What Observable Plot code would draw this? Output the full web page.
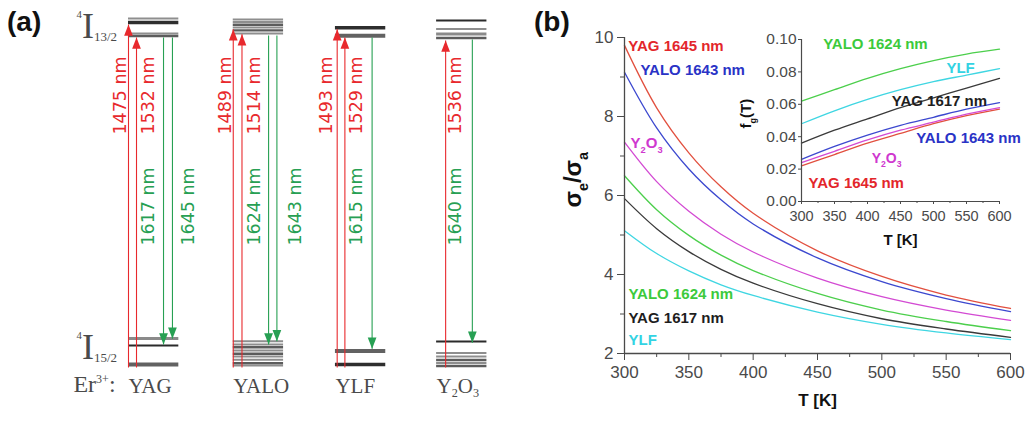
<!DOCTYPE html>
<html>
<head>
<meta charset="utf-8">
<script src="https://cdn.jsdelivr.net/npm/d3@7"></script>
<script src="https://cdn.jsdelivr.net/npm/@observablehq/plot@0.6"></script>
<style>
  html, body { margin: 0; padding: 0; background: #fff; }
  #fig { position: relative; width: 1031px; height: 423px; overflow: hidden; background: #fff; }
  #fig svg { position: absolute; }
  .tag { position: absolute; font: bold 28px "Liberation Sans", Arial, sans-serif; color: #111; line-height: 1; }
</style>
</head>
<body>
<div id="fig">
  <div class="tag" style="left:7px;top:8px">(a)</div>
  <div class="tag" style="left:534px;top:8px">(b)</div>
</div>
<script>
// ================= DATA =================
// ---- panel (a): Er3+ energy-level scheme (schematic energies, cm^-1) ----
const hostNames = ["YAG", "YALO", "YLF", "Y_[0.58,0.2]{2}O_[0.58,0.2]{3}"];
const hostX = [0, 1.02, 2.015, 3];                 // column index of each host
const manifoldLabels = ["^[0.3,-0.55]{4}I_[0.36,0.1]{13/2}", "^[0.3,-0.55]{4}I_[0.36,0.1]{15/2}"];
const ionLabel = "Er^[0.5,-0.4]{3+}:";

const yagLevels   = [6970, 6890, 6668, 6618, 524, 383, 0];
const yagWeights  = ["gray", "darkWide", "gray", "mid", "grayWide", "dark", "midWide"];
const yaloLevels  = [6950, 6900, 6845, 6790, 6730, 6668, 469, 403, 349, 282, 216, 161, 95, 26, -20];
const yaloWeights = ["gray", "gray", "mid", "gray", "mid", "gray", "gray", "gray", "mid", "gray", "mid", "gray", "gray", "mid", "gray"];
const ylfLevels   = [6783, 6622, 272, 0];
const ylfWeights  = ["darkWide", "midWide", "midWide", "darkWide"];
const y2o3Levels  = [6930, 6759, 6658, 6577, 463, 232, 161, 91, 30, -30];
const y2o3Weights = ["dark", "gray", "grayWide", "mid", "dark", "gray", "gray", "mid", "gray", "mid"];

const transHost   = [0, 0, 0, 0, 1, 1, 1, 1, 2, 2, 2, 3, 3];
const transNm     = [1475, 1532, 1617, 1645, 1489, 1514, 1624, 1643, 1493, 1529, 1615, 1536, 1640];
const transKind   = ["abs", "abs", "em", "em", "abs", "abs", "em", "em", "abs", "abs", "em", "abs", "em"];
const transTop    = [6849, 6587, 6587, 6587, 6755, 6654, 6628, 6628, 6755, 6587, 6587, 6527, 6547];
const transBottom = [-60, -60, 403, 518, -60, -60, 403, 469, -60, -60, 316, -60, 437];
const transSlot   = [0, 0.078, 0.341, 0.428, 0, 0.085, 0.344, 0.425, 0.017, 0.092, 0.357, 0.088, 0.348];
const labelSlot   = [-0.078, 0.195, 0.195, 0.584, -0.078, 0.204, 0.204, 0.604, -0.088, 0.204, 0.204, 0.185, 0.185];

// ---- panel (b): sigma_e / sigma_a vs T ----
const temps = [300, 325, 350, 375, 400, 450, 500, 550, 600];
const ratioYAG1645  = [9.80, 8.22, 7.08, 6.22, 5.55, 4.60, 3.95, 3.48, 3.14];
const ratioYALO1643 = [9.12, 7.71, 6.67, 5.89, 5.28, 4.42, 3.82, 3.39, 3.06];
const ratioY2O3     = [7.35, 6.35, 5.60, 5.02, 4.57, 3.91, 3.44, 3.10, 2.84];
const ratioYALO1624 = [6.50, 5.64, 4.99, 4.49, 4.10, 3.52, 3.10, 2.81, 2.58];
const ratioYAG1617  = [5.92, 5.16, 4.58, 4.13, 3.78, 3.26, 2.88, 2.62, 2.41];
const ratioYLF      = [5.11, 4.53, 4.09, 3.74, 3.47, 3.05, 2.74, 2.52, 2.35];

// ---- inset: f_g(T) vs T ----
const tempsInset = [300, 350, 400, 450, 500, 550, 600];
const fgYALO1624 = [0.062, 0.069, 0.076, 0.082, 0.087, 0.091, 0.094];
const fgYLF      = [0.048, 0.056, 0.063, 0.069, 0.074, 0.078, 0.082];
const fgYAG1617  = [0.036, 0.044, 0.051, 0.058, 0.064, 0.070, 0.076];
const fgYALO1643 = [0.026, 0.034, 0.041, 0.047, 0.052, 0.057, 0.061];
const fgY2O3     = [0.024, 0.031, 0.038, 0.044, 0.049, 0.054, 0.058];
const fgYAG1645  = [0.022, 0.029, 0.036, 0.042, 0.048, 0.053, 0.057];

const seriesNames = ["YAG 1645 nm", "YALO 1643 nm", "Y2O3", "YALO 1624 nm", "YAG 1617 nm", "YLF"];
const seriesLabels = ["YAG 1645 nm", "YALO 1643 nm", "Y_[0.62,0.3]{2}O_[0.62,0.3]{3}", "YALO 1624 nm", "YAG 1617 nm", "YLF"];
const mainLabelT  = [303, 312.4, 304.7, 303.1, 303.1, 303.1];
const mainLabelV  = [9.77, 9.16, 7.32, 3.49, 2.89, 2.33];
const insetLabelT = [383, 553, 429, 412, 509, 541];
const insetLabelV = [0.0111, 0.0389, 0.0265, 0.0969, 0.0617, 0.0821];

const xTicks = [300, 350, 400, 450, 500, 550, 600];
const xMinor = [325, 375, 425, 475, 525, 575];
const yTicks = [2, 4, 6, 8, 10];
const yMinor = [3, 5, 7, 9];
const fgTicks = [0, 0.02, 0.04, 0.06, 0.08, 0.10];

// ================= STYLES =================
const lineColors  = ["#e2503f", "#3c48cf", "#d34ad3", "#4ccf4c", "#3a3a3a", "#3fd6e2"];
const labelColors = ["#e3262b", "#2a33c6", "#cf38cf", "#3cca3c", "#1e1e1e", "#33d3e3"];
const red = "#e8292d", green = "#27a053";
const levelStyles = {
  dark:     {stroke: "#2b2b2b", width: 2.2},
  darkWide: {stroke: "#2e2e2e", width: 3.4},
  mid:      {stroke: "#5c5c5c", width: 2.4},
  midWide:  {stroke: "#626262", width: 4},
  gray:     {stroke: "#8e8e8e", width: 1.9},
  grayWide: {stroke: "#8a8a8a", width: 3.2}
};
const colWidth = 0.49;
const sans = "'Liberation Sans', Arial, sans-serif";
const serif = "'Liberation Serif', 'Times New Roman', serif";
const gothic = "'DejaVu Sans', sans-serif";
const axisColor = "#4a4a4a";

// rich text: _[scale,shift]{sub}  ^[scale,shift]{sup}
function richify(svg) {
  svg.querySelectorAll("text").forEach(t => {
    if (t.querySelector("tspan")) return;
    const s = t.textContent;
    if (!/[_^]\[/.test(s)) return;
    const fs = parseFloat(getComputedStyle(t).fontSize);
    t.textContent = "";
    const re = /([_^])\[([\d.]+),(-?[\d.]+)\]\{([^}]*)\}|([^_^]+)/g;
    let m, cur = 0;
    while ((m = re.exec(s))) {
      const ts = document.createElementNS("http://www.w3.org/2000/svg", "tspan");
      if (m[5] !== undefined) {
        ts.textContent = m[5];
        if (cur) ts.setAttribute("dy", -cur);
        cur = 0;
      } else {
        const shift = +m[3] * fs;
        ts.textContent = m[4];
        ts.setAttribute("font-size", (+m[2] * fs).toFixed(2));
        ts.setAttribute("dy", (shift - cur).toFixed(2));
        cur = shift;
      }
      t.appendChild(ts);
    }
  });
}

const fig = document.getElementById("fig");
function place(svg, left, top) {
  svg.style.left = left + "px";
  svg.style.top = top + "px";
  svg.style.background = "transparent";
  fig.appendChild(svg);
  richify(svg);
}

// ================= PANEL (a) =================
const levelSets = [[yagLevels, yagWeights], [yaloLevels, yaloWeights], [ylfLevels, ylfWeights], [y2o3Levels, y2o3Weights]];
const levels = levelSets.flatMap(([E, W], h) => E.map((e, i) => ({host: h, E: e, w: W[i]})));
const trans = transNm.map((nm, i) => ({
  nm, host: transHost[i], kind: transKind[i], top: transTop[i], bottom: transBottom[i],
  x: hostX[transHost[i]] + transSlot[i], lx: hostX[transHost[i]] + labelSlot[i]
}));
const labelE = {abs: 5419, em: 3183};
const arrowHead = {
  draw(context, size) {
    const r = Math.sqrt(size / Math.PI);
    context.moveTo(0, 0);
    context.lineTo(-0.78 * r, 2 * r);
    context.lineTo(0.78 * r, 2 * r);
    context.closePath();
  }
};

const plotA = Plot.plot({
  width: 530, height: 423,
  marginLeft: 128, marginRight: 0, marginTop: 19, marginBottom: 59,
  x: {domain: [0, 402 / 102.7], axis: null},
  y: {domain: [0, 6950], axis: null},
  color: {type: "identity"},
  style: {background: "transparent", overflow: "visible"},
  marks: [
    Plot.ruleY(levels, {
      y: "E", x1: d => hostX[d.host], x2: d => hostX[d.host] + colWidth,
      stroke: d => levelStyles[d.w].stroke, strokeWidth: d => levelStyles[d.w].width
    }),
    Plot.link(trans, {
      x1: "x", x2: "x", y1: "bottom", y2: "top",
      stroke: d => d.kind === "abs" ? red : green, strokeWidth: 1.1
    }),
    Plot.dot(trans, {
      x: "x", y: d => d.kind === "abs" ? d.top : d.bottom,
      symbol: arrowHead, r: 5.6,
      fill: d => d.kind === "abs" ? red : green, stroke: "none",
      rotate: d => d.kind === "abs" ? 0 : 180
    }),
    Plot.text(trans, {
      x: "lx", y: d => labelE[d.kind], text: d => `${d.nm} nm`, rotate: -90,
      fill: d => d.kind === "abs" ? red : green, fontSize: 17.5, fontFamily: gothic
    }),
    Plot.text(manifoldLabels, {
      x: -0.506, y: (d, i) => i === 0 ? 6819 : 353, text: d => d,
      textAnchor: "start", fontSize: 36, fontFamily: serif, fill: "#4a4a4a"
    }),
    Plot.text([ionLabel], {
      x: -0.536, y: -409, text: d => d, textAnchor: "start",
      fontSize: 24, fontFamily: serif, fill: "#4a4a4a"
    }),
    Plot.text(hostNames, {
      x: (d, i) => hostX[i], y: -429, text: d => d, textAnchor: "start",
      fontSize: 21, fontFamily: serif, fill: "#4a4a4a"
    })
  ]
});
place(plotA, 0, 0);

// ================= PANEL (b) main =================
const ratioValues = [ratioYAG1645, ratioYALO1643, ratioY2O3, ratioYALO1624, ratioYAG1617, ratioYLF];
const ratioRows = seriesNames.flatMap((s, i) => temps.map((t, j) => ({series: s, k: i, T: t, v: ratioValues[i][j]})));

const plotB = Plot.plot({
  width: 501, height: 423,
  marginLeft: 94, marginRight: 21, marginTop: 37, marginBottom: 70,
  x: {domain: [300, 600]},
  y: {domain: [2, 10]},
  color: {type: "identity"},
  style: {background: "transparent", fontFamily: sans},
  marks: [
    Plot.line(ratioRows, {x: "T", y: "v", z: "series", stroke: d => lineColors[d.k], strokeWidth: 1.3, curve: "catmull-rom"}),
    Plot.ruleX([300], {stroke: axisColor, strokeWidth: 1.3}),
    Plot.ruleY([2], {stroke: axisColor, strokeWidth: 1.3}),
    Plot.axisX(xTicks, {tickSize: 7, tickPadding: 5, fontSize: 17, color: axisColor, label: null}),
    Plot.axisX(xMinor, {tickSize: 4, tickFormat: () => "", color: axisColor, label: null}),
    Plot.axisY(yTicks, {tickSize: 7, tickPadding: 4, fontSize: 17, color: axisColor, label: null}),
    Plot.axisY(yMinor, {tickSize: 4, tickFormat: () => "", color: axisColor, label: null}),
    Plot.text(seriesLabels, {
      x: (d, i) => mainLabelT[i], y: (d, i) => mainLabelV[i], text: d => d,
      fill: (d, i) => labelColors[i], textAnchor: "start",
      fontSize: 15, fontWeight: "bold", fontFamily: sans
    }),
    Plot.text(["T [K]"], {text: d => d, frameAnchor: "bottom", dy: 52, fontSize: 17, fontWeight: "bold", fill: "#111"}),
    Plot.text(["σ_[0.6,0.3]{e}/σ_[0.6,0.3]{a}"], {
      text: d => d, frameAnchor: "left", rotate: -90, dx: -51, dy: 12,
      fontSize: 24, fontWeight: "bold", fill: "#111"
    })
  ]
});
place(plotB, 530, 0);

// ================= inset =================
const fgValues = [fgYAG1645, fgYALO1643, fgY2O3, fgYALO1624, fgYAG1617, fgYLF];
const fgRows = seriesNames.flatMap((s, i) => tempsInset.map((t, j) => ({series: s, k: i, T: t, v: fgValues[i][j]})));

const plotC = Plot.plot({
  width: 331, height: 260,
  marginLeft: 101, marginRight: 32, marginTop: 39, marginBottom: 59,
  x: {domain: [300, 600]},
  y: {domain: [0, 0.1]},
  color: {type: "identity"},
  style: {background: "transparent", fontFamily: sans},
  marks: [
    Plot.line(fgRows, {x: "T", y: "v", z: "series", stroke: d => lineColors[d.k], strokeWidth: 1.3, curve: "catmull-rom"}),
    Plot.ruleX([300], {stroke: axisColor, strokeWidth: 1.2}),
    Plot.ruleY([0], {stroke: axisColor, strokeWidth: 1.2}),
    Plot.axisX(xTicks, {tickSize: 3, tickPadding: 6, fontSize: 14.5, color: axisColor, label: null}),
    Plot.axisX(xMinor, {tickSize: 2, tickFormat: () => "", color: axisColor, label: null}),
    Plot.axisY(fgTicks, {tickSize: 3, tickPadding: 2, fontSize: 15.5, tickFormat: d3.format(".2f"), color: axisColor, label: null}),
    Plot.text(seriesLabels, {
      x: (d, i) => insetLabelT[i], y: (d, i) => insetLabelV[i], text: d => d,
      fill: (d, i) => labelColors[i], fontSize: (d, i) => i === 2 ? 14 : 15, fontWeight: "bold", fontFamily: sans
    }),
    Plot.text(["T [K]"], {text: d => d, frameAnchor: "bottom", dy: 43, fontSize: 15, fontWeight: "bold", fill: "#111"}),
    Plot.text(["f_[0.6,0.3]{g}(T)"], {
      text: d => d, frameAnchor: "left", rotate: -90, dx: -55, dy: 8,
      fontSize: 15, fontWeight: "bold", fill: "#111"
    })
  ]
});
place(plotC, 700, 0);
</script>
</body>
</html>
